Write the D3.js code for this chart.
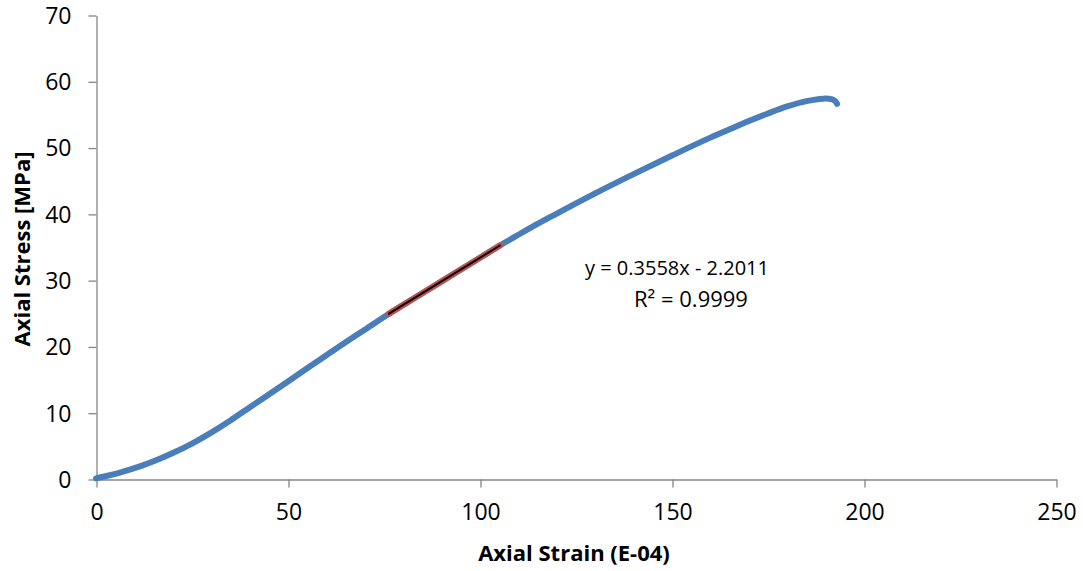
<!DOCTYPE html>
<html>
<head>
<meta charset="utf-8">
<script src="https://cdn.jsdelivr.net/npm/d3@7"></script>
<style>
  html, body { margin: 0; padding: 0; background: #fff; }
  svg { display: block; }
  text { font-family: "Open Sans", "Liberation Sans", sans-serif; fill: #000; }
</style>
</head>
<body>
<svg id="chart" width="1083" height="571"></svg>
<script>
// Stress–strain record of the specimen (strain in units of 1e-4, stress in MPa)
const strain = [0, 3, 6, 9, 12, 15, 20, 25, 30, 35, 40, 45, 50, 55, 60, 65, 70, 76,
                80, 90, 100, 105, 110, 113, 120, 130, 140, 150, 160, 165, 170, 175,
                180, 185, 188, 190, 191.5, 192.5, 193];
const stress = [0.1, 0.49, 0.94, 1.45, 2.02, 2.67, 3.92, 5.35, 7.0, 8.83, 10.8, 12.75, 14.72, 16.7, 18.67, 20.62, 22.52, 24.82,
                26.26, 29.82, 33.38, 35.16, 36.85, 37.85, 40.05, 43.1, 46.0, 48.8, 51.5, 52.75, 54.0, 55.15,
                56.2, 57.0, 57.3, 57.42, 57.3, 57.0, 56.6];

// Linear fit over the elastic portion
const trendSlope = 0.3558;
const trendIntercept = -2.2011;
const trendStrainRange = [76.3, 105.2];
const trendLabels = ["y = 0.3558x - 2.2011", "R\u00B2 = 0.9999"];

const xTicks = [0, 50, 100, 150, 200, 250];
const yTicks = [0, 10, 20, 30, 40, 50, 60, 70];
const xTitle = "Axial Strain (E-04)";
const yTitle = "Axial Stress [MPa]";

const svg = d3.select("#chart");
const plot = { left: 96, right: 1056, top: 15, bottom: 479 };

const x = d3.scaleLinear().domain([0, 250]).range([plot.left, plot.right]);
const y = d3.scaleLinear().domain([0, 70]).range([plot.bottom, plot.top]);

const axisColor = "#868686";

// Y axis
const gy = svg.append("g")
  .attr("transform", `translate(${plot.left + 0.5},0.5)`)
  .call(d3.axisLeft(y).tickValues(yTicks).tickSize(8).tickSizeOuter(0).tickPadding(17));
// X axis
const gx = svg.append("g")
  .attr("transform", `translate(0.5,${plot.bottom + 0.5})`)
  .call(d3.axisBottom(x).tickValues(xTicks).tickSize(8).tickSizeOuter(0).tickPadding(17));

[gx, gy].forEach(g => {
  g.selectAll("path.domain").attr("stroke", axisColor).attr("stroke-width", 1.3);
  g.selectAll(".tick line").attr("stroke", axisColor).attr("stroke-width", 1.3);
  g.selectAll(".tick text")
    .attr("font-family", "'Open Sans', sans-serif")
    .attr("font-size", 23)
    .attr("fill", "#000");
});
gy.selectAll(".tick text").attr("dy", "0.34em");
gx.selectAll(".tick text").attr("dy", "0.68em");

// Measured curve
const pts = strain.map((s, i) => [s, stress[i]]);
svg.append("path")
  .datum(pts)
  .attr("fill", "none")
  .attr("stroke", "#4a7ebb")
  .attr("stroke-width", 6)
  .attr("stroke-linecap", "round")
  .attr("stroke-linejoin", "round")
  .attr("d", d3.line().x(d => x(d[0])).y(d => y(d[1])).curve(d3.curveMonotoneX));

// Trend line over the fitted range
const trendPts = trendStrainRange.map(s => [s, trendSlope * s + trendIntercept]);
const trendLine = d3.line().x(d => x(d[0])).y(d => y(d[1]));
svg.append("path").datum(trendPts)
  .attr("fill", "none").attr("stroke", "#c0504d").attr("stroke-width", 6)
  .attr("stroke-linecap", "round").attr("d", trendLine);
svg.append("path").datum(trendPts)
  .attr("fill", "none").attr("stroke", "#000").attr("stroke-width", 2)
  .attr("stroke-linecap", "round").attr("d", trendLine);

// Fit equation label
svg.append("text").attr("x", 677).attr("y", 275)
  .attr("text-anchor", "middle").attr("font-size", 20).text(trendLabels[0]);
svg.append("text").attr("x", 691).attr("y", 307)
  .attr("text-anchor", "middle").attr("font-size", 22).text(trendLabels[1]);

// Axis titles
svg.append("text")
  .attr("x", (plot.left + plot.right) / 2 - 2).attr("y", 561)
  .attr("text-anchor", "middle").attr("font-weight", "bold").attr("font-size", 22)
  .text(xTitle);
svg.append("text")
  .attr("transform", `translate(30,${(plot.top + plot.bottom) / 2 + 2}) rotate(-90)`)
  .attr("text-anchor", "middle").attr("font-weight", "bold").attr("font-size", 22)
  .text(yTitle);
</script>
</body>
</html>
